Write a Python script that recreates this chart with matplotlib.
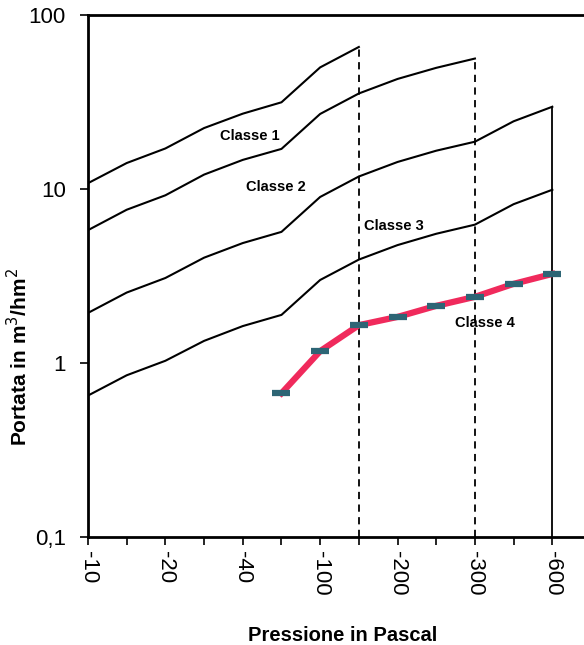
import matplotlib
matplotlib.use("Agg")
import matplotlib.pyplot as plt
from matplotlib.ticker import FixedLocator, NullLocator

plt.rcParams['font.family'] = ['Liberation Sans', 'DejaVu Sans']

# pressioni di prova (Pa) e permeabilita' di riferimento delle classi
pressioni = [-10, -15, -20, -30, -40, -50, -100, -150, -200, -250, -300, -450, -600]
classe1 = [10.8, 14.1, 17.1, 22.4, 27.1, 31.5, 50.0, 65.5]
classe2 = [5.8, 7.6, 9.2, 12.1, 14.7, 17.0, 27.0, 35.4, 42.9, 49.7, 56.2]
classe3 = [1.94, 2.54, 3.08, 4.03, 4.89, 5.67, 9.0, 11.8, 14.3, 16.6, 18.7, 24.5, 29.7]
classe4 = [0.65, 0.85, 1.03, 1.34, 1.63, 1.89, 3.0, 3.93, 4.76, 5.53, 6.24, 8.18, 9.9]

# misura sul campione (da -50 Pa a -600 Pa)
misura_idx = [5, 6, 7, 8, 9, 10, 11, 12]
misura = [0.67, 1.17, 1.65, 1.84, 2.13, 2.4, 2.85, 3.25]

fig = plt.figure(figsize=(5.84, 6.45), dpi=100)
ax = fig.add_axes([88 / 584, 108 / 645, 503 / 584, 522 / 645])

for serie in (classe1, classe2, classe3, classe4):
    ax.plot(range(len(serie)), serie, color='black', lw=1.5)

# limiti di pressione delle classi
ax.vlines(7, 0.1, classe1[-1], colors='black', linestyles=(0, (4, 3)), lw=1.3)
ax.vlines(10, 0.1, classe2[-1], colors='black', linestyles=(0, (4, 3)), lw=1.3)
ax.vlines(12, 0.1, classe3[-1], colors='black', lw=1.3)

ax.plot(misura_idx, misura, color='#f02a5c', lw=4.5, marker='_', ms=13,
        mew=4.5, mec='#2d6575', zorder=5)

ax.text(4.18, 20.2, 'Classe 1', ha='center', va='center', fontsize=10.5, fontweight='bold')
ax.text(4.85, 10.3, 'Classe 2', ha='center', va='center', fontsize=10.5, fontweight='bold')
ax.text(7.9, 6.1, 'Classe 3', ha='center', va='center', fontsize=10.5, fontweight='bold')
ax.text(10.25, 1.7, 'Classe 4', ha='center', va='center', fontsize=10.5, fontweight='bold')

ax.set_yscale('log')
ax.set_ylim(0.1, 100)
ax.set_xlim(0, 13)
ax.yaxis.set_major_locator(FixedLocator([0.1, 1, 10, 100]))
ax.yaxis.set_minor_locator(NullLocator())
ax.set_yticklabels(['0,1', '1', '10', '100'])
ax.set_xticks(range(len(pressioni)))
ax.set_xticklabels([str(p) if i % 2 == 0 else '' for i, p in enumerate(pressioni)],
                   rotation=-90)
ax.tick_params(axis='both', labelsize=16, length=6, width=1.2)
ax.tick_params(axis='y', pad=10)
ax.tick_params(axis='x', pad=4)

for s in ('left', 'bottom', 'top'):
    ax.spines[s].set_linewidth(2)
ax.spines['right'].set_visible(False)

ax.set_xlabel('Pressione in Pascal', fontsize=14.5, fontweight='bold')
ax.set_ylabel('Portata in m$^3$/hm$^2$', fontsize=15, fontweight='bold')
ax.xaxis.set_label_coords(0.507, -0.170)
ax.yaxis.set_label_coords(-0.112, 0.345)

fig.savefig('out.png', dpi=100)
